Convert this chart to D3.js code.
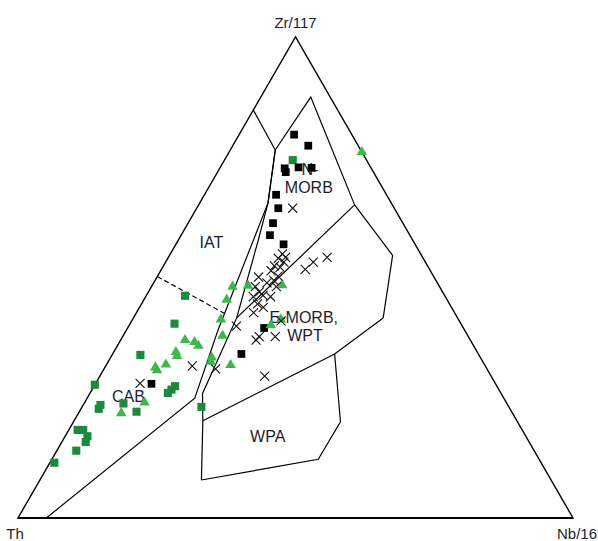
<!DOCTYPE html>
<html>
<head>
<meta charset="utf-8">
<script src="https://cdn.jsdelivr.net/npm/d3@7"></script>
<style>
  body { margin: 0; background: #fff; }
  svg { display: block; }
</style>
</head>
<body>
<div id="chart"></div>
<script>
// All points are [Th, Zr/117, Nb/16] in percent.
var apexNames = ['Th', 'Zr/117', 'Nb/16'];

// Field boundaries (Wood-type discrimination diagram).
var iatMorbLine = [[15.2, 84.8, 0], [15.4, 76.5, 8.1]];
var morbField = [[15.4, 76.5, 8.1], [3.5, 87.5, 9.0], [6.8, 65.1, 28.1]];
var emorbRight = [[6.8, 65.1, 28.1], [5.2, 54.6, 40.2], [13.4, 41.6, 45.0]];
var wpaTop = [[13.4, 41.6, 45.0], [25.9, 34.1, 40.0], [56.6, 20.2, 23.2]];
var wpaField = [[25.9, 34.1, 40.0], [31.9, 20.0, 48.1], [39.8, 12.2, 48.0], [63.0, 7.9, 29.1]];
var morbEmorbLine = [[6.8, 65.1, 28.1], [39.8, 41.6, 18.6]];
var withinPlateEdge = [[15.4, 76.5, 8.1], [22.2, 65.5, 12.3], [27.8, 57.8, 14.4], [39.8, 41.6, 18.6],
                       [53.7, 25.9, 20.3], [56.6, 20.2, 23.2], [63.0, 7.9, 29.1]];
var arcEdge = [[15.4, 76.5, 8.1], [22.2, 65.5, 12.3], [44.4, 39.1, 16.5], [55.7, 24.9, 19.4], [94.9, 0, 5.1]];
var iatCabLine = [[49.8, 50.2, 0], [41.5, 42.5, 16.0]];

// Field names and where they sit.
var fieldNames = ['IAT', 'N-', 'MORB', 'E-MORB,', 'WPT', 'CAB', 'WPA'];
var fieldSpots = [[36.5, 57.3, 6.2], [11.1, 72.6, 16.3], [13.2, 68.8, 18.0], [27.6, 41.8, 30.6],
                  [29.3, 38.0, 32.7], [67.4, 25.4, 7.2], [46.5, 17.0, 36.5]];

// Samples.
var blackSquares = [
  [10.4, 79.7, 9.9], [9.0, 77.4, 13.6], [15.6, 72.7, 11.7], [15.8, 71.9, 12.3], [13.0, 72.9, 14.1],
  [10.7, 72.8, 16.5], [19.9, 67.2, 12.9], [20.9, 64.4, 14.7], [23.4, 61.3, 15.3], [25.2, 58.8, 16.0],
  [23.7, 56.9, 19.4], [35.9, 39.5, 24.6], [42.7, 34.1, 23.2], [62.0, 27.9, 10.1]
];
var greenSquares = [
  [13.3, 74.4, 12.3], [46.8, 46.2, 7.0], [51.6, 40.4, 8.0], [61.0, 33.9, 5.1], [72.3, 27.7, 0.0],
  [58.0, 27.4, 14.6], [59.0, 26.7, 14.3], [60.0, 26.0, 14.0], [55.4, 23.1, 21.5], [73.4, 23.5, 3.1],
  [74.1, 22.7, 3.2], [69.1, 23.8, 7.1], [67.6, 22.1, 10.3], [80.1, 18.3, 1.6], [79.1, 18.3, 2.6],
  [79.0, 17.0, 4.0], [79.9, 15.8, 4.3], [82.5, 14.0, 3.5], [87.7, 11.5, 0.8]
];
var greenTriangles = [
  [0.0, 76.1, 23.9], [37.3, 48.1, 14.6], [34.4, 48.3, 17.3], [28.2, 48.4, 23.4], [39.7, 45.4, 14.9],
  [42.8, 41.3, 15.9], [44.2, 37.9, 17.9], [34.4, 40.1, 25.5], [32.0, 41.3, 26.7], [51.4, 37.0, 11.6],
  [49.9, 36.6, 13.5], [49.6, 35.8, 14.6], [54.3, 34.5, 11.2], [54.5, 33.7, 11.8], [57.4, 31.9, 10.7],
  [59.6, 31.3, 9.1], [59.6, 30.7, 9.7], [48.4, 33.4, 18.2], [49.0, 32.5, 18.5], [45.8, 31.8, 22.4],
  [65.2, 24.0, 10.8], [70.5, 21.8, 7.7]
];
var crosses = [
  [18.3, 64.4, 17.3], [24.9, 54.9, 20.2], [24.7, 54.2, 21.1], [26.1, 54.0, 19.9], [25.5, 53.2, 21.3],
  [27.6, 52.4, 20.0], [26.7, 52.1, 21.2], [28.7, 51.4, 19.9], [28.0, 50.3, 21.7], [29.2, 49.4, 21.4],
  [30.7, 48.9, 20.4], [29.4, 48.1, 22.5], [33.2, 48.1, 18.7], [33.0, 47.0, 20.0], [34.6, 46.0, 19.4],
  [32.7, 46.3, 21.0], [31.5, 46.0, 22.5], [34.6, 44.5, 20.9], [33.9, 43.8, 22.3], [36.2, 42.7, 21.1],
  [40.7, 39.9, 19.4], [38.6, 37.0, 24.4], [37.7, 37.7, 24.6], [34.8, 37.7, 27.5], [32.1, 41.0, 26.9],
  [40.8, 29.5, 29.7], [52.8, 31.6, 15.6], [48.9, 31.0, 20.1], [64.0, 28.0, 8.0], [22.4, 51.7, 25.9],
  [20.2, 53.2, 26.6], [17.2, 54.2, 28.6], [31.6, 50.1, 18.3]
];

var width = 598, height = 541;
var font = "'Liberation Sans', Arial, sans-serif";
var textColor = '#1c1c30';

var svg = d3.select('#chart').append('svg')
    .attr('width', width)
    .attr('height', height);

// Horizontal position follows Nb + Zr/2, vertical follows Zr.
var x = d3.scaleLinear().domain([0, 100]).range([18, 573]);
var y = d3.scaleLinear().domain([0, 100]).range([518, 37]);
function px(p) { return x(p[2] + p[1] / 2); }
function py(p) { return y(p[1]); }

var line = d3.line().x(px).y(py);

// Outer triangle.
var corners = [[100, 0, 0], [0, 100, 0], [0, 0, 100]];
svg.append('path')
    .attr('d', line(corners) + 'Z')
    .attr('fill', 'none')
    .attr('stroke', '#000')
    .attr('stroke-width', 1.4)
    .attr('stroke-linejoin', 'miter');
svg.append('path')
    .attr('d', line([corners[0], corners[2]]))
    .attr('stroke', '#000')
    .attr('stroke-width', 2);

// Field lines.
[iatMorbLine, morbField, emorbRight, wpaTop, wpaField, morbEmorbLine, withinPlateEdge, arcEdge]
  .forEach(function (pts) {
    svg.append('path')
        .attr('d', line(pts))
        .attr('fill', 'none')
        .attr('stroke', '#000')
        .attr('stroke-width', 1.2);
  });
svg.append('path')
    .attr('d', line(iatCabLine))
    .attr('fill', 'none')
    .attr('stroke', '#000')
    .attr('stroke-width', 1.2)
    .attr('stroke-dasharray', '5,3');

// Field names.
svg.selectAll('.field')
    .data(fieldNames)
    .enter()
    .append('text')
    .attr('class', 'field')
    .attr('x', function (d, i) { return px(fieldSpots[i]); })
    .attr('y', function (d, i) { return py(fieldSpots[i]); })
    .attr('dy', '0.36em')
    .attr('text-anchor', 'middle')
    .style('font-family', font)
    .style('font-size', '16px')
    .style('fill', textColor)
    .text(function (d) { return d; });

// Apex names.
svg.append('text')
    .attr('x', px(corners[1]))
    .attr('y', py(corners[1]) - 9)
    .attr('text-anchor', 'middle')
    .style('font-family', font).style('font-size', '15px').style('fill', textColor)
    .text(apexNames[1]);
svg.append('text')
    .attr('x', px(corners[0]) - 3)
    .attr('y', 539)
    .attr('text-anchor', 'middle')
    .style('font-family', font).style('font-size', '15px').style('fill', textColor)
    .text(apexNames[0]);
svg.append('text')
    .attr('x', px(corners[2]) + 4)
    .attr('y', 539)
    .attr('text-anchor', 'middle')
    .style('font-family', font).style('font-size', '15px').style('fill', textColor)
    .text(apexNames[2]);

// Markers.
function drawSymbols(data, type, size, fill, stroke) {
  svg.append('g').selectAll('path')
      .data(data)
      .enter()
      .append('path')
      .attr('transform', function (d) { return 'translate(' + px(d) + ',' + py(d) + ')'; })
      .attr('d', d3.symbol().type(type).size(size))
      .attr('fill', fill)
      .attr('stroke', stroke)
      .attr('stroke-width', stroke === 'none' ? 0 : 1.1);
}
drawSymbols(greenSquares, d3.symbolSquare, 66, '#1b8a3d', 'none');
drawSymbols(blackSquares, d3.symbolSquare, 60, '#000', 'none');
drawSymbols(greenTriangles, d3.symbolTriangle, 48, '#3fb64b', 'none');
drawSymbols(crosses, d3.symbolX, 55, 'none', '#111');
</script>
</body>
</html>
